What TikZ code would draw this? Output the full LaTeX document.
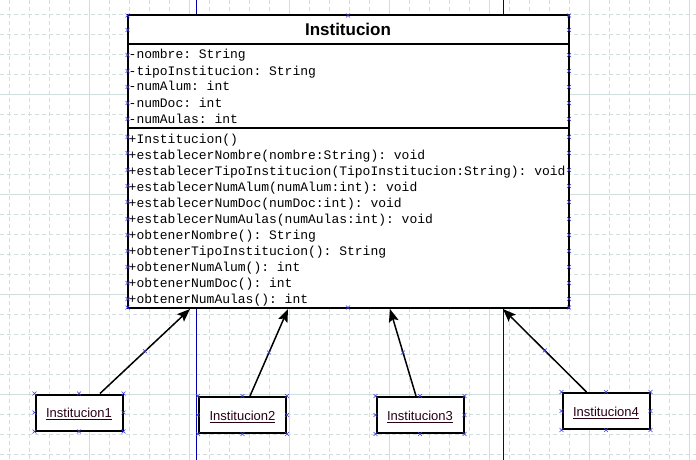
\documentclass[tikz,border=0pt]{standalone}
\usepackage{fontspec}
\setmainfont{Liberation Sans}
\newfontfamily\umlmono{Liberation Mono}
\usetikzlibrary{arrows.meta, calc}
\definecolor{gridcol}{RGB}{208,222,222}
\definecolor{pagecol}{RGB}{0,0,170}
\definecolor{handlecol}{RGB}{60,60,220}
\definecolor{objtext}{RGB}{40,0,20}
\newcommand{\handle}[1]{\draw[handle] (#1) ++(-2,-2) -- ++(4,4) ++(-4,0) -- ++(4,-4);}

\begin{document}
\begin{tikzpicture}[x=1pt, y=-1pt,
    member/.style={anchor=base west, inner sep=0pt, font=\umlmono\fontsize{13}{13}\selectfont\frenchspacing},
    objbox/.style={draw, line width=2pt, fill=white, minimum width=87pt, minimum height=36pt,
        inner sep=0pt, text height=12pt, text depth=1.5pt, font=\fontsize{13}{13}\selectfont, text=objtext},
    inherit/.style={line width=1.5pt, -{Stealth[length=13pt, width=10pt, inset=2.5pt]}},
    handle/.style={handlecol, line width=0.6pt}]
    \useasboundingbox (0,0) rectangle (696,460);
    \fill[white] (0,0) rectangle (696,460);
    % Background grid
    \foreach \x in {9.5,29.5,...,689.5}
        \draw[gridcol, dash pattern=on 4pt off 3pt] (\x,0) -- (\x,460);
    \foreach \y in {14.5,34.5,...,454.5}
        \draw[gridcol, dash pattern=on 4pt off 3pt] (0,\y) -- (696,\y);
    \foreach \x in {89.5,189.5,...,689.5}
        \draw[gridcol] (\x,0) -- (\x,460);
    \foreach \y in {94.5,194.5,294.5,394.5}
        \draw[gridcol] (0,\y) -- (696,\y);
    % Page borders
    \draw[pagecol, line width=1pt] (196,0) -- (196,460);
    \draw[pagecol, line width=1pt] (503,0) -- (503,460);
    % Class box
    \def\Lx{127.5}
    \def\Rx{569}
    \def\Ty{15.5}
    \def\Hy{44}
    \def\Ay{128}
    \def\By{307.5}
    \draw[fill=white, line width=2pt] (\Lx,\Ty) rectangle (\Rx,\By);
    \draw[line width=2pt] (\Lx,\Hy) -- (\Rx,\Hy);
    \draw[line width=2pt] (\Lx,\Ay) -- (\Rx,\Ay);
    \node[font=\bfseries\fontsize{17}{17}\selectfont, anchor=base, inner sep=0pt] (title) at (348,36) {Institucion};
    % Attributes
    \node[member] (a1) at (128.5,59) {-nombre: String};
    \node[member] (a2) at (128.5,75) {-tipoInstitucion: String};
    \node[member] (a3) at (128.5,91) {-numAlum: int};
    \node[member] (a4) at (128.5,107) {-numDoc: int};
    \node[member] (a5) at (128.5,123) {-numAulas: int};
    % Methods
    \node[member] (m1) at (128.5,143) {+Institucion()};
    \node[member] (m2) at (128.5,159) {+establecerNombre(nombre:String): void};
    \node[member] (m3) at (128.5,175) {+establecerTipoInstitucion(TipoInstitucion:String): void};
    \node[member] (m4) at (128.5,191) {+establecerNumAlum(numAlum:int): void};
    \node[member] (m5) at (128.5,207) {+establecerNumDoc(numDoc:int): void};
    \node[member] (m6) at (128.5,223) {+establecerNumAulas(numAulas:int): void};
    \node[member] (m7) at (128.5,239) {+obtenerNombre(): String};
    \node[member] (m8) at (128.5,255) {+obtenerTipoInstitucion(): String};
    \node[member] (m9) at (128.5,271) {+obtenerNumAlum(): int};
    \node[member] (m10) at (128.5,287) {+obtenerNumDoc(): int};
    \node[member] (m11) at (128.5,303) {+obtenerNumAulas(): int};
    % Objects
    \node[objbox] (inst1) at (79,412.5) {\underline{Institucion1}};
    \node[objbox] (inst2) at (242.5,415) {\underline{Institucion2}};
    \node[objbox] (inst3) at (420,415) {\underline{Institucion3}};
    \node[objbox] (inst4) at (606,411) {\underline{Institucion4}};
    % Arrows to the class
    \coordinate (src1) at ($(inst1.north)+(21,0)$);
    \coordinate (src2) at ($(inst2.north)+(7.5,0)$);
    \coordinate (src3) at ($(inst3.north)+(-4,0)$);
    \coordinate (src4) at ($(inst4.north)+(-19.5,0)$);
    \coordinate (tip1) at (190,309);
    \coordinate (tip2) at (288,309);
    \coordinate (tip3) at (390,309);
    \coordinate (tip4) at (503,309);
    \draw[inherit] (src1) -- (tip1);
    \draw[inherit] (src2) -- (tip2);
    \draw[inherit] (src3) -- (tip3);
    \draw[inherit] (src4) -- (tip4);
    % Selection handles
    \foreach \y in {15.5,30,55,71,87,103,119,137,153,170,186,202,219,235,251,267,283,299,307.5} {
        \handle{\Lx,\y}
        \handle{\Rx,\y}
    }
    \handle{348,\Ty}
    \handle{348,\By}
    \foreach \n in {inst1,inst2,inst3,inst4} {
        \foreach \a in {north west,north,north east,east,south east,south,south west,west} {
            \handle{\n.\a}
        }
    }
    \handle{$(src1)!.5!(tip1)$}
    \handle{$(src2)!.5!(tip2)$}
    \handle{$(src3)!.5!(tip3)$}
    \handle{$(src4)!.5!(tip4)$}
\end{tikzpicture}
\end{document}
